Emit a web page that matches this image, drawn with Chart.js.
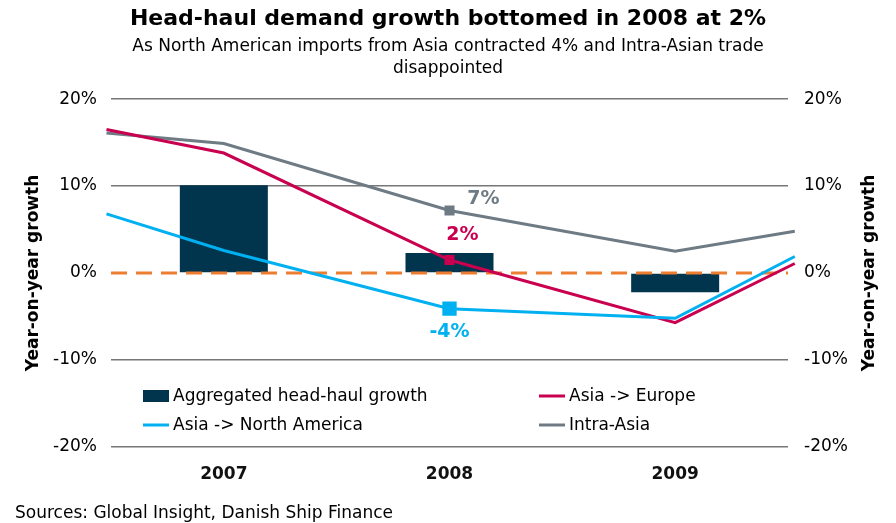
<!DOCTYPE html>
<html>
<head>
<meta charset="utf-8">
<script src="https://cdn.jsdelivr.net/npm/chart.js@4/dist/chart.umd.min.js"></script>
<style>
  body { margin: 0; background: #fff; }
  #wrap { position: relative; width: 896px; height: 523px; }
  #source { position: absolute; left: 15px; top: 502px; font: 17px 'DejaVu Sans', Verdana, sans-serif; color: #000; }
</style>
</head>
<body>
<div id="wrap">
  <canvas id="growthChart" width="896" height="523"></canvas>
  <div id="source">Sources: Global Insight, Danish Ship Finance</div>
</div>
<script>
const years = ['2007', '2008', '2009'];
const yTicks = [-20, -10, 0, 10, 20];
const aggregated = [10.1, 2.3, -2.2];
// line series run past the first and last year to the plot edges
const lineX = [-0.52, 0, 1, 2, 2.53];
const asiaEurope = [16.5, 13.8, 1.5, -5.7, 1.1];
const asiaNorthAmerica = [6.8, 2.6, -4.1, -5.2, 1.9];
const intraAsia = [16.1, 14.9, 7.2, 2.5, 4.8];
const zeroX = [-0.5, 2.5];
const zeroY = [0, 0];

const navy = '#01354E';
const red = '#C8004F';
const blue = '#00B0F0';
const grey = '#6F7B84';
const orange = '#ED7D31';

Chart.defaults.font.family = "'DejaVu Sans', Verdana, sans-serif";
Chart.defaults.color = '#000';

const toPoints = (xs, ys) => ys.map((y, i) => ({ x: xs[i], y: y }));

// value labels for the 2008 points
const pointLabels = {
    id: 'pointLabels',
    afterDatasetsDraw(chart) {
        const ctx = chart.ctx;
        chart.data.datasets.forEach((ds, i) => {
            if (ds.labelIndex === undefined) return;
            const el = chart.getDatasetMeta(i).data[ds.labelIndex];
            const v = ds.data[ds.labelIndex].y;
            ctx.save();
            ctx.font = "bold 19px 'DejaVu Sans', Verdana, sans-serif";
            ctx.fillStyle = ds.borderColor;
            ctx.textAlign = 'center';
            ctx.textBaseline = 'middle';
            ctx.fillText(Math.round(v) + '%', el.x + ds.labelOffset[0], el.y + ds.labelOffset[1]);
            ctx.restore();
        });
    }
};

// legend inside the plot and axis titles reading bottom-to-top on both sides
const extras = {
    id: 'extras',
    afterDraw(chart) {
        const ctx = chart.ctx;
        const area = chart.chartArea;
        const midY = (area.top + area.bottom) / 2;
        ctx.save();
        ctx.font = "bold 17px 'DejaVu Sans', Verdana, sans-serif";
        ctx.fillStyle = '#000';
        ctx.textAlign = 'center';
        ctx.textBaseline = 'middle';
        [34, 870].forEach(x => {
            ctx.save();
            ctx.translate(x, midY);
            ctx.rotate(-Math.PI / 2);
            ctx.fillText('Year-on-year growth', 0, 0);
            ctx.restore();
        });

        ctx.font = "17px 'DejaVu Sans', Verdana, sans-serif";
        ctx.textAlign = 'left';
        const items = chart.data.datasets.filter(d => d.legendPos);
        items.forEach(d => {
            const [lx, ly] = d.legendPos;
            if (d.type === 'bar') {
                ctx.fillStyle = d.backgroundColor;
                ctx.fillRect(lx, ly - 6, 26, 12);
            } else {
                ctx.strokeStyle = d.borderColor;
                ctx.lineWidth = 3;
                ctx.beginPath();
                ctx.moveTo(lx, ly);
                ctx.lineTo(lx + 26, ly);
                ctx.stroke();
            }
            ctx.fillStyle = '#000';
            ctx.fillText(d.label, lx + 30, ly + 1);
        });
        ctx.restore();
    }
};

new Chart(document.getElementById('growthChart'), {
    type: 'bar',
    data: {
        labels: years,
        datasets: [
            {
                type: 'bar',
                label: 'Aggregated head-haul growth',
                data: aggregated,
                backgroundColor: navy,
                grouped: false,
                categoryPercentage: 1,
                barPercentage: 0.39,
                xAxisID: 'x',
                yAxisID: 'y',
                order: 4,
                legendPos: [143, 396]
            },
            {
                type: 'line',
                label: 'Zero',
                data: toPoints(zeroX, zeroY),
                borderColor: orange,
                borderWidth: 3,
                borderDash: [16, 9],
                pointRadius: 0,
                xAxisID: 'x2',
                yAxisID: 'y',
                order: 3
            },
            {
                type: 'line',
                label: 'Intra-Asia',
                data: toPoints(lineX, intraAsia),
                borderColor: grey,
                backgroundColor: grey,
                borderWidth: 3,
                pointStyle: 'rect',
                pointRadius: [0, 0, 5, 0, 0],
                xAxisID: 'x2',
                yAxisID: 'y',
                clip: 10,
                order: 2,
                labelIndex: 2,
                labelOffset: [34, -11],
                legendPos: [539, 425]
            },
            {
                type: 'line',
                label: 'Asia -> Europe',
                data: toPoints(lineX, asiaEurope),
                borderColor: red,
                backgroundColor: red,
                borderWidth: 3,
                pointStyle: 'rect',
                pointRadius: [0, 0, 5, 0, 0],
                xAxisID: 'x2',
                yAxisID: 'y',
                clip: 10,
                order: 1,
                labelIndex: 2,
                labelOffset: [13, -25],
                legendPos: [539, 396]
            },
            {
                type: 'line',
                label: 'Asia -> North America',
                data: toPoints(lineX, asiaNorthAmerica),
                borderColor: blue,
                backgroundColor: blue,
                borderWidth: 3,
                pointStyle: 'rect',
                pointRadius: [0, 0, 8, 0, 0],
                xAxisID: 'x2',
                yAxisID: 'y',
                clip: 10,
                order: 0,
                labelIndex: 2,
                labelOffset: [0, 23],
                legendPos: [143, 425]
            }
        ]
    },
    options: {
        responsive: false,
        animation: false,
        events: [],
        layout: { padding: 0 },
        plugins: {
            legend: { display: false },
            tooltip: { enabled: false },
            title: {
                display: true,
                text: 'Head-haul demand growth bottomed in 2008 at 2%',
                font: { size: 22, weight: 'bold' },
                color: '#000',
                padding: { top: 6, bottom: 2 }
            },
            subtitle: {
                display: true,
                text: ['As North American imports from Asia contracted 4% and Intra-Asian trade', 'disappointed'],
                font: { size: 17, lineHeight: 1.3 },
                color: '#000',
                padding: { top: 1.5, bottom: 19 }
            }
        },
        scales: {
            x: {
                type: 'category',
                offset: true,
                grid: { display: false, drawTicks: false },
                border: { display: false },
                ticks: { font: { size: 17, weight: 'bold' }, color: '#111', padding: 17 },
                afterFit: s => { s.height = 76; }
            },
            x2: {
                type: 'linear',
                display: false,
                offset: false,
                min: -0.5,
                max: 2.5
            },
            y: {
                position: 'left',
                min: -20,
                max: 20,
                afterBuildTicks: s => { s.ticks = yTicks.map(v => ({ value: v })); },
                grid: {
                    color: c => (c.tick && c.tick.value === 0 ? 'rgba(0,0,0,0)' : '#777'),
                    lineWidth: 1.5,
                    drawTicks: false
                },
                border: { display: false },
                ticks: { font: { size: 17 }, padding: 14, callback: v => v + '%' },
                afterFit: s => { s.width = 111; }
            },
            y2: {
                position: 'right',
                min: -20,
                max: 20,
                afterBuildTicks: s => { s.ticks = yTicks.map(v => ({ value: v })); },
                grid: { display: false, drawTicks: false },
                border: { display: false },
                ticks: { font: { size: 17 }, padding: 16, callback: v => v + '%' },
                afterFit: s => { s.width = 108; }
            }
        }
    },
    plugins: [pointLabels, extras]
});
</script>
</body>
</html>
